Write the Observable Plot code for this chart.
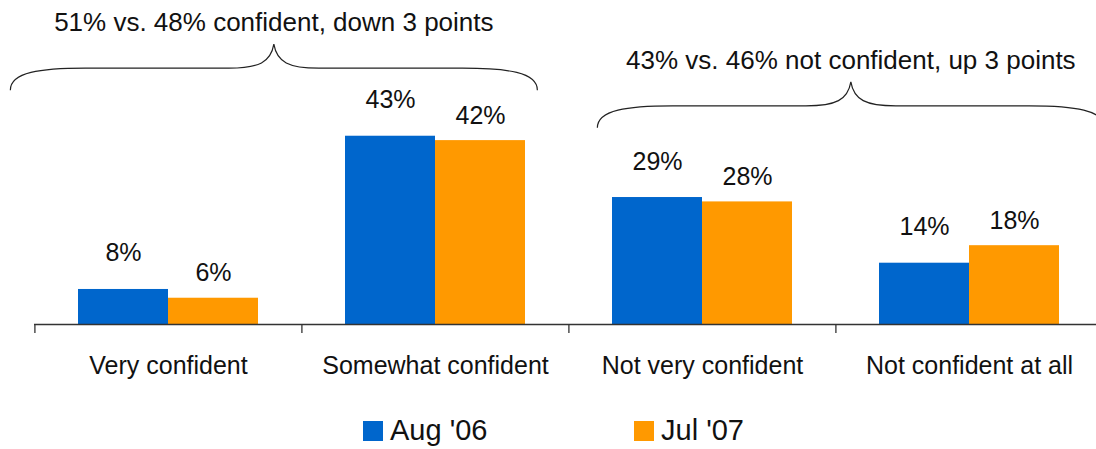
<!DOCTYPE html>
<html><head><meta charset="utf-8">
<script src="https://cdn.jsdelivr.net/npm/d3@7"></script>
<script src="https://cdn.jsdelivr.net/npm/@observablehq/plot@0.6"></script>
<style>
body{margin:0;background:#fff;font-family:"Liberation Sans",Arial,Helvetica,sans-serif;color:#111;}
#wrap{position:relative;width:1096px;height:449px;overflow:hidden;}
#legend{position:absolute;left:0;top:400px;width:1096px;height:49px;}
.sw{position:absolute;display:flex;align-items:center;font-size:29px;}
.sw span.box{display:inline-block;width:20px;height:20px;margin-right:7px;}
</style></head><body>
<div id="wrap"><div id="chart"></div><div id="legend"></div></div>
<script>
const categories = ["Very confident","Somewhat confident","Not very confident","Not confident at all"];
const seriesNames = ["Aug '06","Jul '07"];
const aug06 = [8,43,29,14];
const jul07 = [6,42,28,18];
const colors = ["#0066cc","#ff9900"];
const braceLabels = ["51% vs. 48% confident, down 3 points","43% vs. 46% not confident, up 3 points"];
const braceFrom = ["Very confident","Not very confident"];
const braceTo = ["Somewhat confident","Not confident at all"];
const braceBase = [53.4, 44.8];

const data = [];
categories.forEach((c,i)=>{
  data.push({category:c, series:seriesNames[0], value:aug06[i]});
  data.push({category:c, series:seriesNames[1], value:jul07[i]});
});
const padIn = 0.664;
const W = 1096, H = 400;

function braceMark(index, scales, values, dimensions, context) {
  const x = scales.x, y = scales.y;
  const step = x(categories[1]) - x(categories[0]);
  const bw = step * (1 - padIn);
  const start = c => x(c) + bw/2 - step/2;
  const end = c => x(c) + bw/2 + step/2;
  const g = d3.select(context.document.createElementNS("http://www.w3.org/2000/svg","g"));
  const offs = [[-24,-31],[29,2]];
  braceLabels.forEach((lab,i)=>{
    const xl = start(braceFrom[i]) + offs[i][0];
    const xr = end(braceTo[i]) + offs[i][1];
    const xm = (xl+xr)/2;
    const yb = y(braceBase[i]);
    const yh = yb - 22;
    const yt = yh - 24;
    const p = `M${xl},${yb} C${xl},${yh+4} ${xl+30},${yh} ${xl+75},${yh} L${xm-45},${yh} C${xm-15},${yh} ${xm-3},${yh-6} ${xm},${yt} `+
              `C${xm+3},${yh-6} ${xm+15},${yh} ${xm+45},${yh} L${xr-75},${yh} C${xr-30},${yh} ${xr},${yh+4} ${xr},${yb}`;
    g.append("path").attr("d",p).attr("fill","none").attr("stroke","#222").attr("stroke-width",1.2);
    g.append("text").attr("x",xm).attr("y",yt-22).attr("dy","0.35em").attr("text-anchor","middle")
      .attr("font-size",26).attr("fill","#111").text(lab);
  });
  return g.node();
}

const chart = Plot.plot({
  width: W, height: H,
  marginLeft: 34, marginRight: 0, marginTop: 0, marginBottom: 76,
  style: {fontFamily: '"Liberation Sans", Arial, sans-serif', color: "#111", background: "#fff", overflow: "visible"},
  x: {domain: categories, range: [34, 1103], paddingInner: padIn, paddingOuter: padIn/2, axis: null},
  y: {domain: [0, 74], range: [324, 0], axis: null},
  marks: [
    Plot.barY(data.filter(d=>d.series===seriesNames[0]), {x:"category", y:"value", fill: colors[0], dx:-45}),
    Plot.barY(data.filter(d=>d.series===seriesNames[1]), {x:"category", y:"value", fill: colors[1], dx:45}),
    Plot.text(data.filter(d=>d.series===seriesNames[0]), {x:"category", y:"value", text:d=>d.value+"%", dx:-45, dy:-36, fontSize:25, fill:"#111"}),
    Plot.text(data.filter(d=>d.series===seriesNames[1]), {x:"category", y:"value", text:d=>d.value+"%", dx:45, dy:-25, fontSize:25, fill:"#111"}),
    Plot.ruleY([0], {stroke:"#333", strokeWidth:1.3}),
    Plot.ruleX(categories, {x:d=>d, dx:-133.6, y1:0, y2:-9/4.378, stroke:"#333", strokeWidth:1.3}),
    Plot.axisX({tickSize:0, tickPadding:32, fontSize:25, label:null}),
    braceMark
  ]
});
document.getElementById("chart").appendChild(chart);

const legend = document.getElementById("legend");
const legX = [363, 634];
seriesNames.forEach((s,i)=>{
  const d = document.createElement("div");
  d.className = "sw";
  d.style.left = legX[i]+"px";
  d.style.top = "14px";
  d.innerHTML = `<span class="box" style="background:${colors[i]}"></span>`;
  const t = document.createElement("span"); t.textContent = s; d.appendChild(t);
  legend.appendChild(d);
});
</script>
</body></html>
